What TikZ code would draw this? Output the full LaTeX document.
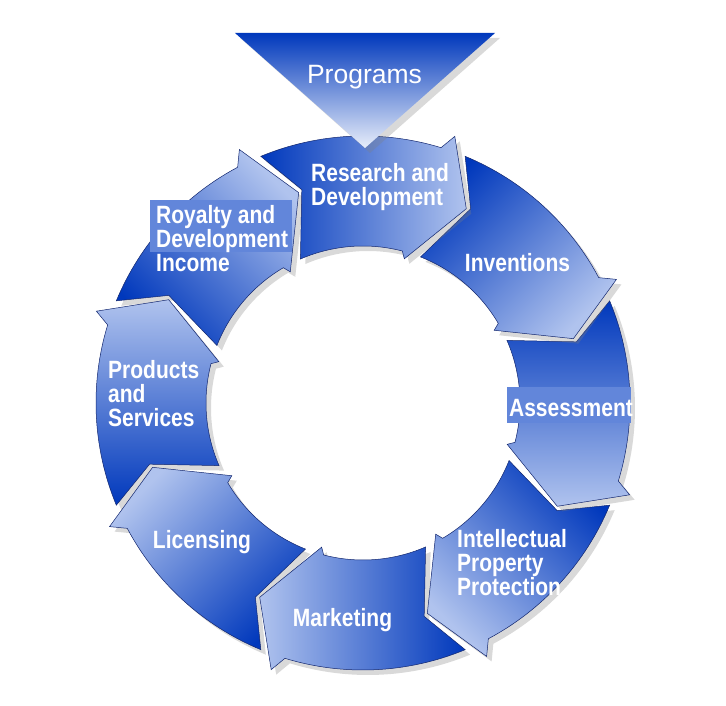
\documentclass[tikz,border=0pt]{standalone}
\usepackage{fontspec}
\usepackage{xcolor}
\usetikzlibrary{shadows}
\newfontfamily\ringfont[FakeStretch=0.84]{Liberation Sans}
\newfontfamily\progfont{Liberation Sans}
\definecolor{ringdark}{RGB}{0,56,188}
\definecolor{ringlight}{RGB}{176,195,238}
\definecolor{ringedge}{RGB}{18,38,110}
\definecolor{boxblue}{RGB}{98,134,218}
\definecolor{trilight}{RGB}{232,238,250}

\begin{document}
\begin{tikzpicture}[x=1pt, y=1pt, every node/.style={text=white, inner sep=0pt},
  segment/.style={draw=ringedge, line width=0.5pt, top color=ringlight, bottom color=ringdark,
    drop shadow={shadow xshift=5pt, shadow yshift=-5pt, opacity=0.3}},
  ring label/.style={font=\ringfont\bfseries\fontsize{25}{24}\selectfont, align=left}]
\useasboundingbox (-363,-303) rectangle (363,403);

\foreach \t in {157.5,-157.5,-112.5,-67.5,-22.5,22.5,67.5,112.5} {
  \pgfmathsetmacro\h{\t-45}
  \pgfmathsetmacro\sa{\t-202.5}
  \pgfmathsetmacro\oa{\h+5.5}
  \pgfmathsetmacro\ia{\h+8}
  \pgfmathsetmacro\ta{\t+1}
  \path[segment, shading angle=\sa] (\t:267pt) arc[start angle=\t, end angle=\oa, radius=267pt]
    -- (\h+3.5:282pt) -- (\h-5.5:220pt) -- (\h+6.5:150pt) -- (\ia:157pt)
    arc[start angle=\ia, end angle=\ta, radius=157pt] -- (\t-6.5:222pt) -- cycle;
}

\fill[boxblue] (-213,203) rectangle (-71,151);
\fill[boxblue] (144,16) rectangle (268,-20);

\path[top color=ringdark, middle color=ringdark!75!white, bottom color=trilight,
  drop shadow={shadow xshift=5pt, shadow yshift=-5pt, opacity=0.3}] (-128,370) -- (132,370) -- (2,255) -- cycle;

\node (programs) [font=\progfont\fontsize{26.5}{30}\selectfont, anchor=base] at (1.5,319) {Programs};
\node (research) [ring label, anchor=north west] at (-52,240) {Research and\\Development};
\node (inventions) [ring label, anchor=base] at (154.5,131) {Inventions};
\node (assessment) [ring label, anchor=base] at (208,-14) {Assessment};
\node (protection) [ring label, anchor=north west] at (94,-126) {Intellectual\\Property\\Protection};
\node (marketing) [ring label, anchor=base] at (-20.5,-224) {Marketing};
\node (licensing) [ring label, anchor=base] at (-161,-146) {Licensing};
\node (products) [ring label, anchor=north west] at (-255,43) {Products\\and\\Services};
\node (royalty) [ring label, anchor=north west] at (-207,198) {Royalty and\\Development\\Income};
\end{tikzpicture}
\end{document}
